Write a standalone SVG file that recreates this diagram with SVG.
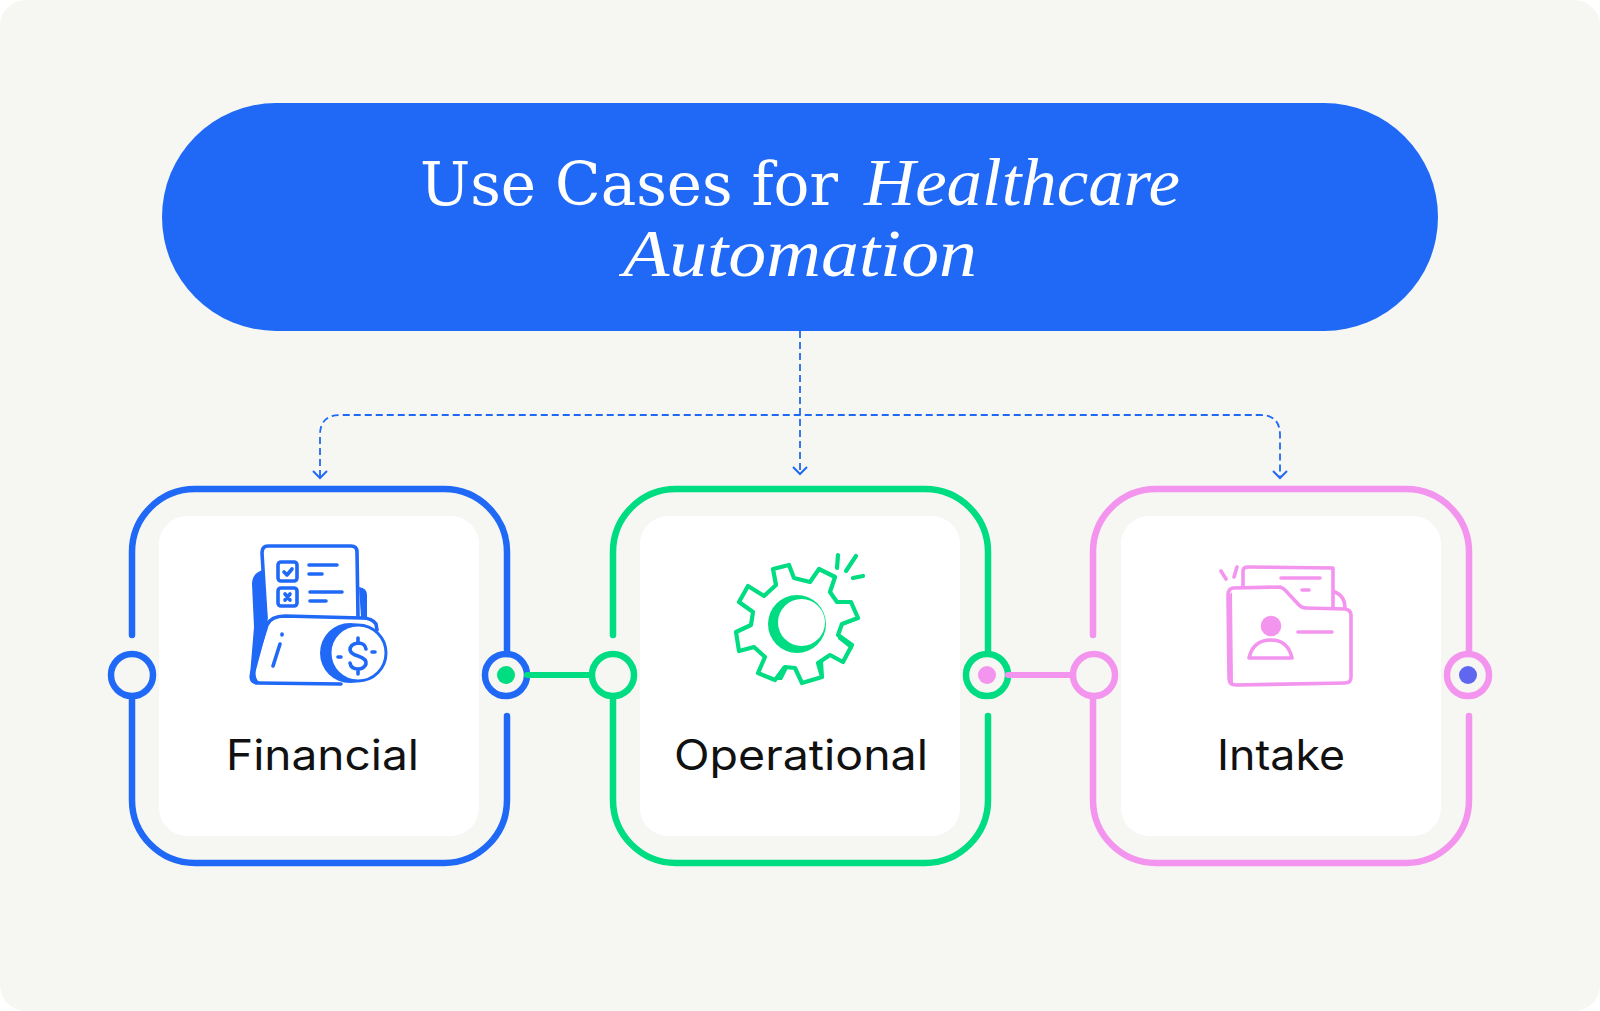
<svg xmlns="http://www.w3.org/2000/svg" width="1600" height="1011" viewBox="0 0 1600 1011">
<defs>
<style>
.t{font-family:"DejaVu Serif Condensed","DejaVu Serif",serif;fill:#fff;font-size:60px}
.i{font-family:"Liberation Serif",serif;font-style:italic;font-size:68px}
.l{font-family:"Inter","Liberation Sans",sans-serif;font-size:42px;fill:#111}
.f{fill:none;stroke-width:6.5;stroke-linecap:round;stroke-linejoin:round}
.c{fill:#fff}
.n{fill:#f6f7f2;stroke-width:6.5}
.d{fill:none;stroke:#2069f6;stroke-width:1.8;stroke-dasharray:7 4}
.a{fill:none;stroke:#2069f6;stroke-width:2}
.ib{fill:none;stroke:#2069f6;stroke-width:3.6;stroke-linecap:round;stroke-linejoin:round}
.ig{fill:none;stroke:#00dc82;stroke-width:4.2;stroke-linecap:round;stroke-linejoin:round}
.ip{fill:none;stroke:#f395ee;stroke-width:3.6;stroke-linecap:round;stroke-linejoin:round}
.blue{stroke:#2069f6}.green{stroke:#00dc82}.pink{stroke:#f395ee}
</style>
</defs>
<rect x="0" y="0" width="1600" height="1011" rx="26" fill="#f6f7f2"/>
<g id="title">
<rect x="162" y="103" width="1276" height="228" rx="114" fill="#2069f6"/>
<text class="t" x="420" y="205" textLength="418" lengthAdjust="spacingAndGlyphs">Use Cases for</text>
<text class="t i" x="864" y="205" textLength="316" lengthAdjust="spacingAndGlyphs">Healthcare</text>
<text class="t i" x="623" y="276" textLength="354" lengthAdjust="spacingAndGlyphs">Automation</text>
</g>
<g id="connectors">
<path class="d" d="M800 331V474"/>
<path class="d" d="M320 477V435Q320 415 340 415H1260Q1280 415 1280 435V477"/>
<path class="a" d="M313 471L320 478L327 471M793 467L800 474L807 467M1273 471L1280 478L1287 471"/>
<path d="M528 675H592" fill="none" stroke="#00dc82" stroke-width="6"/>
<path d="M1009 675H1073" fill="none" stroke="#f395ee" stroke-width="6"/>
</g>
<g id="financial">
<rect class="c" x="159" y="516" width="320" height="320" rx="28"/>
<path class="f blue" d="M132 635V552A63 63 0 0 1 195 489H444A63 63 0 0 1 507 552V655M507 716V800A63 63 0 0 1 444 863H195A63 63 0 0 1 132 800V696"/>
<circle class="n blue" cx="132" cy="675" r="21"/>
<circle class="n blue" cx="506" cy="675" r="21"/>
<circle cx="506" cy="675" r="9" fill="#00dc82"/>
<path d="M527 675H532" stroke="#00dc82" stroke-width="6" stroke-linecap="round"/>
<g id="icon-financial">
<path d="M263 570Q252 573 252 584L254 627L250 675Q249 683 256 684H262Q254 680 256 670L268 625L266 600Z" fill="#2069f6"/>
<path d="M359 587Q367 588 367 595V617H361Z" fill="#2069f6"/>
<path class="ib" d="M266 618L262 553Q262 546 268 546L351 546Q357 546 357 552L358 616"/>
<rect class="ib" x="278" y="562" width="19" height="19" rx="3"/>
<rect class="ib" x="278" y="588" width="19" height="18" rx="3"/>
<path class="ib" d="M284 572L287 575L292 569M285 594L290 600M290 594L285 600M309 565H337M309 574H322M310 592H342M310 601H326"/>
<path class="ib" d="M267 625Q271 616 285 616L362 618Q372 618 376 624L377 630M267 625L252 672Q249 683 258 683L341 684"/>
<path class="ib" d="M273 666L280 644M282 635V634"/>
<circle cx="350" cy="653" r="30" fill="#2069f6"/>
<circle cx="358" cy="653" r="28" fill="#fff" stroke="#2069f6" stroke-width="3"/>
<path class="ib" d="M366 649Q365 643 358 643Q350 644 350 650Q351 654 358 656Q367 659 366 664Q364 669 358 669Q351 669 350 663M358 638V643M358 669V674M338 657H341M372 652H375"/>
</g>
<text class="l" x="226" y="770" textLength="193" lengthAdjust="spacingAndGlyphs">Financial</text>
</g>
<g id="operational">
<rect class="c" x="640" y="516" width="320" height="320" rx="28"/>
<path class="f green" d="M613 635V552A63 63 0 0 1 676 489H925A63 63 0 0 1 988 552V655M988 716V800A63 63 0 0 1 925 863H676A63 63 0 0 1 613 800V696"/>
<circle class="n green" cx="613" cy="675" r="21"/>
<circle class="n green" cx="987" cy="675" r="21"/>
<circle cx="987" cy="675" r="9" fill="#f395ee"/>
<path d="M1008 675H1013" stroke="#f395ee" stroke-width="6" stroke-linecap="round"/>
<g id="icon-operational">
<path class="ig" d="M773 569L789 565L794 578L810 582L819 569L835 577L830 592L837 602L851 602L858 618L842 624L838 635L852 645L843 662L830 655L818 663L822 677L802 683L795 668L785 667L775 680L758 673L765 657L754 647L739 651L736 632L751 625L753 612L739 602L748 586L764 596L776 585Z"/>
<path d="M783 666L788 668L782 680L773 680Z M838 635L838 639L852 650L853 645Z M817 663L823 660L824 677L821 678Z" fill="#00dc82"/>
<circle cx="797" cy="624" r="29" fill="#00dc82"/>
<circle cx="801.5" cy="622.5" r="23.5" fill="#fff"/>
<path class="ig" d="M838 555L837 568M856 556L846 571M853 578L863 576"/>
</g>
<text class="l" x="674" y="770" textLength="254" lengthAdjust="spacingAndGlyphs">Operational</text>
</g>
<g id="intake">
<rect class="c" x="1121" y="516" width="320" height="320" rx="28"/>
<path class="f pink" d="M1093 635V552A63 63 0 0 1 1156 489H1406A63 63 0 0 1 1469 552V655M1469 716V800A63 63 0 0 1 1406 863H1156A63 63 0 0 1 1093 800V696"/>
<circle class="n pink" cx="1094" cy="675" r="21"/>
<circle class="n pink" cx="1468" cy="675" r="21"/>
<circle cx="1468" cy="675" r="9" fill="#5f66f0"/>
<g id="icon-intake">
<path class="ip" d="M1243 587V571Q1243 567 1248 567L1333 568V607M1335 592Q1345 596 1345 608M1281 578H1320M1302 590H1309M1221 571L1226 579M1237 567L1234 577"/>
<path class="ip" d="M1233 588L1280 587Q1283 588 1285 590L1299 605Q1302 608 1306 608L1345 609Q1351 610 1351 615V677Q1351 683 1345 683L1236 685Q1229 685 1229 678L1228 595Q1228 589 1233 588Z"/>
<path d="M1227 597L1229 680L1233 684L1232 592Z" fill="#f395ee"/>
<circle cx="1271" cy="626" r="10.3" fill="#f395ee"/>
<path class="ip" d="M1249 658Q1253 640 1271 640Q1288 640 1292 658Z"/>
<path class="ip" d="M1298 632H1332"/>
</g>
<text class="l" x="1217" y="770" textLength="128" lengthAdjust="spacingAndGlyphs">Intake</text>
</g>
</svg>
